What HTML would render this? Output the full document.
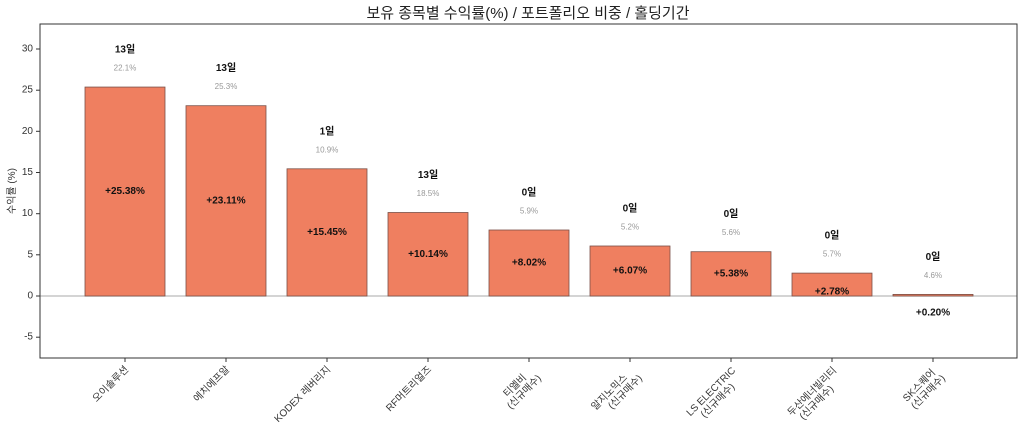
<!DOCTYPE html>
<html><head><meta charset="utf-8"><style>
body{margin:0;background:#fff}
svg text{font-family:"Liberation Sans","Noto Sans CJK KR",sans-serif}
</style></head><body>
<svg width="1024" height="433" viewBox="0 0 1024 433" xmlns="http://www.w3.org/2000/svg">
<rect width="1024" height="433" fill="#fff"/>
<text x="528" y="18" font-size="15" text-anchor="middle" fill="#222">보유 종목별 수익률(%) / 포트폴리오 비중 / 홀딩기간</text>
<line x1="40" y1="296" x2="1017" y2="296" stroke="#bbb" stroke-width="1.2"/>
<g fill="#ef7f60" stroke="#7a5048" stroke-width="0.8">
<rect x="85" y="87.05" width="80" height="208.95"/>
<rect x="186" y="105.7" width="80" height="190.3"/>
<rect x="287" y="168.8" width="80" height="127.2"/>
<rect x="388" y="212.5" width="80" height="83.5"/>
<rect x="489" y="230" width="80" height="66"/>
<rect x="590" y="246" width="80" height="50"/>
<rect x="691" y="251.7" width="80" height="44.3"/>
<rect x="792" y="273.1" width="80" height="22.9"/>
<rect x="893" y="294.4" width="80" height="1.6"/>
</g>
<rect x="40" y="24" width="977" height="334" fill="none" stroke="#333" stroke-width="1"/>
<g font-size="10" fill="#333" text-anchor="end" dominant-baseline="central">
<text x="33" y="49">30</text><text x="33" y="90.2">25</text><text x="33" y="131.3">20</text>
<text x="33" y="172.5">15</text><text x="33" y="213.7">10</text><text x="33" y="254.8">5</text>
<text x="33" y="296">0</text><text x="33" y="337.2">-5</text>
</g>
<g stroke="#333"><line x1="36" x2="40" y1="49" y2="49"/><line x1="36" x2="40" y1="90.2" y2="90.2"/><line x1="36" x2="40" y1="131.3" y2="131.3"/><line x1="36" x2="40" y1="172.5" y2="172.5"/><line x1="36" x2="40" y1="213.7" y2="213.7"/><line x1="36" x2="40" y1="254.8" y2="254.8"/><line x1="36" x2="40" y1="296" y2="296"/><line x1="36" x2="40" y1="337.2" y2="337.2"/>
<line x1="125" x2="125" y1="358" y2="362"/><line x1="226" x2="226" y1="358" y2="362"/><line x1="327" x2="327" y1="358" y2="362"/><line x1="428" x2="428" y1="358" y2="362"/><line x1="529" x2="529" y1="358" y2="362"/><line x1="630" x2="630" y1="358" y2="362"/><line x1="731" x2="731" y1="358" y2="362"/><line x1="832" x2="832" y1="358" y2="362"/><line x1="933" x2="933" y1="358" y2="362"/></g>
<text transform="translate(15,191) rotate(-90)" font-size="10" fill="#333" text-anchor="middle">수익률 (%)</text>
<g font-size="10" font-weight="bold" fill="#111" text-anchor="middle" dominant-baseline="central">
<text x="125" y="50">13일</text><text x="226" y="68.7">13일</text><text x="327" y="131.8">1일</text>
<text x="428" y="175.5">13일</text><text x="529" y="193">0일</text><text x="630" y="209">0일</text>
<text x="731" y="214.7">0일</text><text x="832" y="236">0일</text><text x="933" y="257.3">0일</text>
<text x="125" y="191.5">+25.38%</text><text x="226" y="200.9">+23.11%</text><text x="327" y="232.4">+15.45%</text>
<text x="428" y="254.3">+10.14%</text><text x="529" y="263">+8.02%</text><text x="630" y="271">+6.07%</text>
<text x="731" y="273.9">+5.38%</text><text x="832" y="292">+2.78%</text><text x="933" y="313">+0.20%</text>
</g>
<g font-size="8" fill="#999" text-anchor="middle" dominant-baseline="central">
<text x="125" y="68">22.1%</text><text x="226" y="86.7">25.3%</text><text x="327" y="149.8">10.9%</text>
<text x="428" y="193.5">18.5%</text><text x="529" y="211">5.9%</text><text x="630" y="227">5.2%</text>
<text x="731" y="232.7">5.6%</text><text x="832" y="254">5.7%</text><text x="933" y="275.3">4.6%</text>
</g>
<g font-size="10" fill="#333" text-anchor="end">
<text transform="translate(129,370) rotate(-45)">오이솔루션</text>
<text transform="translate(230,370) rotate(-45)">에치에프알</text>
<text transform="translate(331,370) rotate(-45)">KODEX 레버리지</text>
<text transform="translate(432,370) rotate(-45)">RF머트리얼즈</text>
<text transform="translate(534,371) rotate(-45)"><tspan x="-10" dy="0">티엘비</tspan><tspan x="0" dy="11">(신규매수)</tspan></text>
<text transform="translate(635,371) rotate(-45)"><tspan x="-10" dy="0">알지노믹스</tspan><tspan x="0" dy="11">(신규매수)</tspan></text>
<text transform="translate(736,371) rotate(-45)"><tspan x="0" dy="0">LS ELECTRIC</tspan><tspan x="-12" dy="11">(신규매수)</tspan></text>
<text transform="translate(837,371) rotate(-45)"><tspan x="0" dy="0">두산에너빌리티</tspan><tspan x="-15" dy="11">(신규매수)</tspan></text>
<text transform="translate(938,371) rotate(-45)"><tspan x="-3" dy="0">SK스퀘어</tspan><tspan x="0" dy="11">(신규매수)</tspan></text>
</g>
</svg>
</body></html>
